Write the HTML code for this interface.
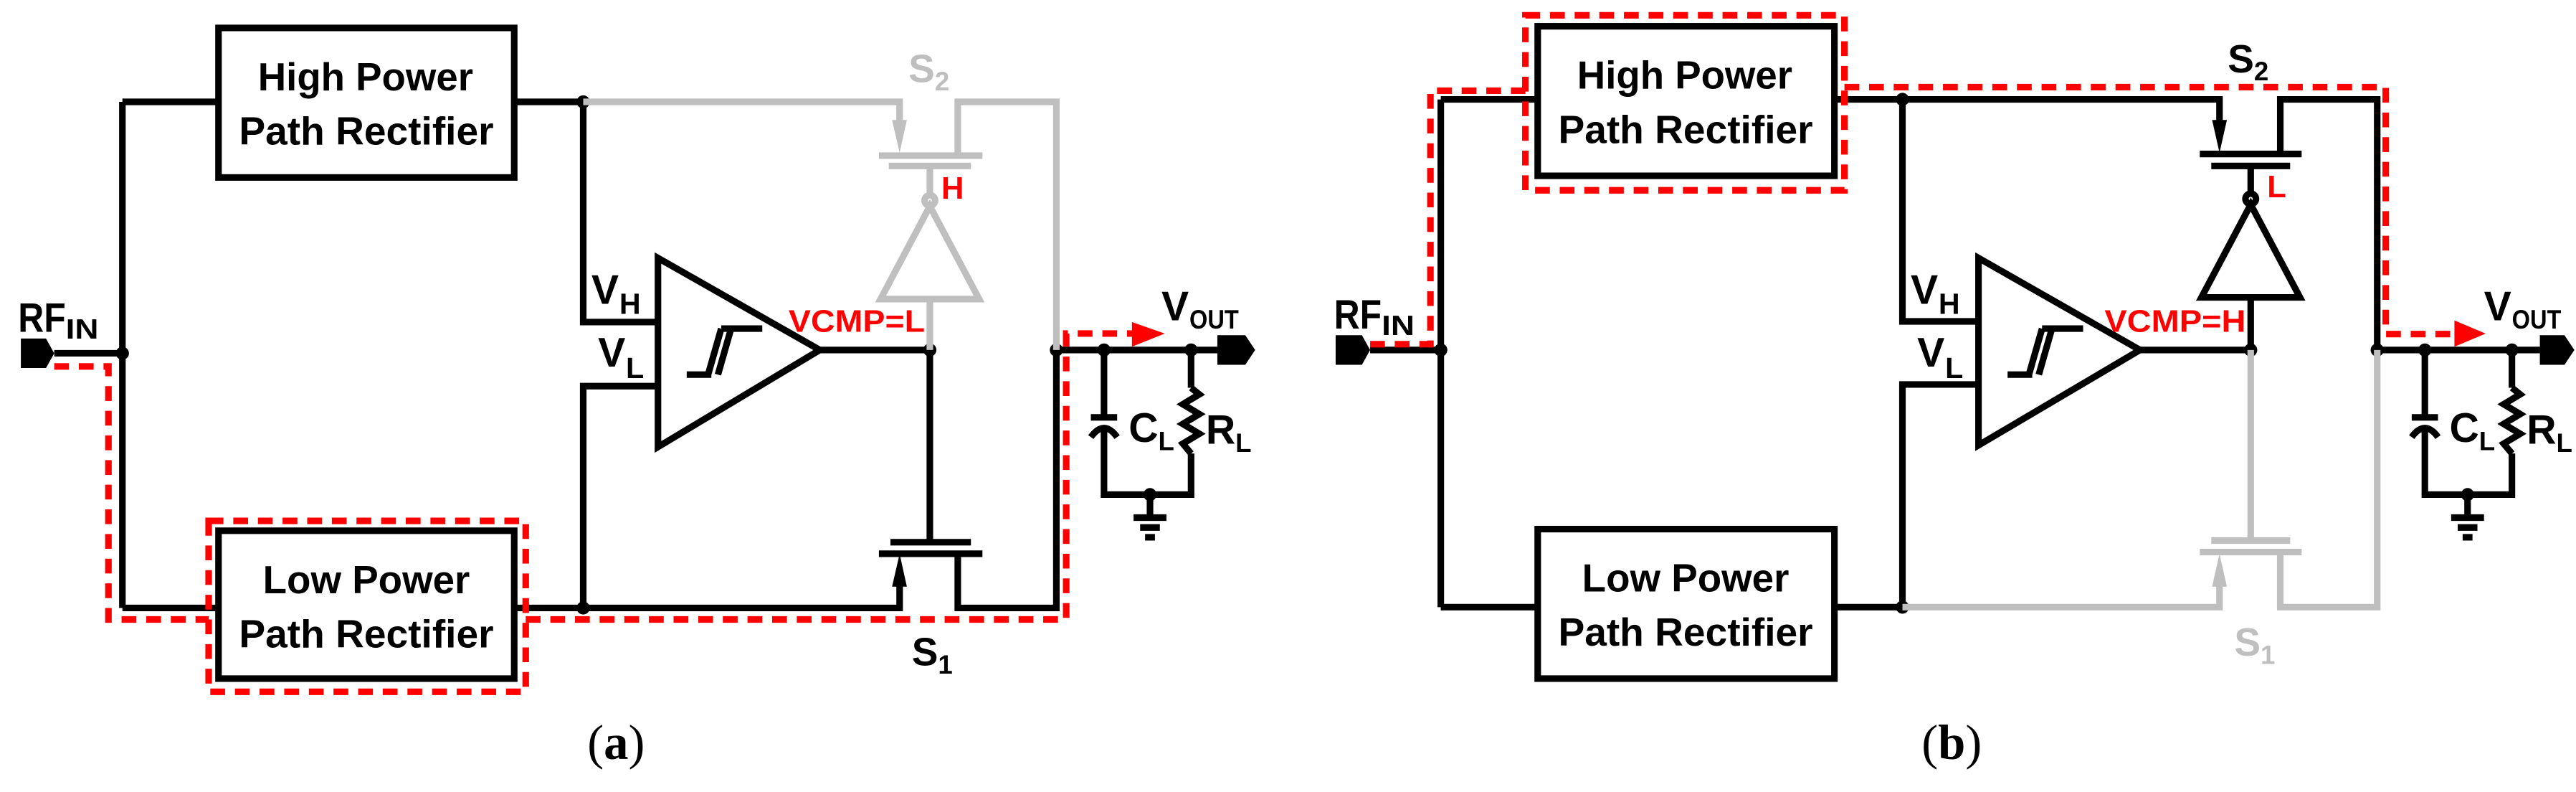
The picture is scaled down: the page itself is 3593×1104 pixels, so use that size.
<!DOCTYPE html>
<html><head><meta charset="utf-8"><style>
html,body{margin:0;padding:0;background:#fff;}
svg{display:block;}
text{font-family:"Liberation Sans",sans-serif;font-weight:bold;}
</style></head><body>
<svg width="3593" height="1104" viewBox="0 0 1568 482" preserveAspectRatio="none" xmlns="http://www.w3.org/2000/svg">
<!-- ================= PANEL A ================= -->
<g fill="none" stroke="#000" stroke-width="4" stroke-linejoin="miter">
 <path d="M33,215 H74.5 M74.5,62 V370 M74.5,62 H133 M74.5,370 H133"/>
 <rect x="133" y="17" width="180" height="91"/>
 <rect x="133" y="323" width="180" height="90"/>
 <path d="M313,62 H355 V196 H400.5"/>
 <path d="M400.5,235 H355 V370 M313,370 H547.6 V356"/>
 <path d="M542,330 H591 M535,337 H598 M583,337 V370 H643 V213"/>
 <path d="M566,213 V330 M499,213 H566"/>
 <polygon points="400.5,157 400.5,272 499,213"/>
 <path d="M418,228 H433 M431,228 L439,200 M437,228 L445,200 M439,200 H464"/>
 <path d="M643,213 H741 M672,213 V254 M664,254 H680 M672,261 V301 H725 V276 M725,213 V236"/>
 <path d="M664,266 Q672,255 680,266"/>
 <polyline points="725,236 730,240 720,246 730,252 720,258 730,264 720,270 725,276"/>
 <path d="M700,301 V315 M690,315 H710 M694,321 H706 M697,327 H703"/>
</g>
<g fill="#000">
 <polygon points="543,357 552,357 547.6,337"/>
 <polygon points="12.7,206 28,206 33,215 28,224 12.7,224"/>
 <polygon points="741,204 758,204 764,213 758,222 741,222"/>
 <circle cx="74.5" cy="215" r="4"/><circle cx="355" cy="62" r="4"/><circle cx="355" cy="370" r="4"/>
 <circle cx="566" cy="213" r="4"/><circle cx="643" cy="213" r="4"/><circle cx="672" cy="213" r="4"/>
 <circle cx="725" cy="213" r="4"/><circle cx="700" cy="301" r="4"/>
</g>
<g fill="none" stroke="#bfbfbf" stroke-width="4">
 <path d="M355,62 H547.6 V74 M535,94.7 H598 M541,101 H591 M583,94.7 V62 H643 V213"/>
 <path d="M566,101 V118.5"/><circle cx="566" cy="122" r="3.2"/>
 <polygon points="566,125.5 536,182 596,182"/>
 <path d="M566,182 V213"/>
</g>
<polygon points="543,73 552,73 547.6,93" fill="#bfbfbf"/>
<g fill="none" stroke="#f00" stroke-width="4" stroke-dasharray="9,6">
 <path d="M33,223 H66 V377 H127"/>
 <rect x="127" y="317" width="193" height="104"/>
 <path d="M320,377 H649 V203 H690"/>
</g>
<polygon points="689,196 709,203 689,211" fill="#f00"/>
<g font-size="24" fill="#000">
 <text x="157" y="55" textLength="131" lengthAdjust="spacingAndGlyphs">High Power</text>
 <text x="145.5" y="88" textLength="155" lengthAdjust="spacingAndGlyphs">Path Rectifier</text>
 <text x="160" y="361" textLength="126" lengthAdjust="spacingAndGlyphs">Low Power</text>
 <text x="145.5" y="394" textLength="155" lengthAdjust="spacingAndGlyphs">Path Rectifier</text>
</g>
<g fill="#000" font-size="25">
 <text x="11" y="202" textLength="29" lengthAdjust="spacingAndGlyphs">RF</text><text x="40" y="206" font-size="17" textLength="20" lengthAdjust="spacingAndGlyphs">IN</text>
 <text x="360" y="185">V</text><text x="377" y="191" font-size="18">H</text>
 <text x="364" y="223">V</text><text x="381" y="230" font-size="18">L</text>
 <text x="707" y="195">V</text><text x="724" y="200" font-size="16" textLength="30" lengthAdjust="spacingAndGlyphs">OUT</text>
 <text x="687" y="269">C</text><text x="705" y="274" font-size="16">L</text>
 <text x="734" y="270">R</text><text x="752" y="275" font-size="16">L</text>
 <text x="555" y="405" font-size="24">S</text><text x="571" y="410" font-size="16">1</text>
 <text x="553" y="50" font-size="24" fill="#bfbfbf">S</text><text x="569" y="55" font-size="16" fill="#bfbfbf">2</text>
 <text x="480" y="202" font-size="19" fill="#f00" textLength="83" lengthAdjust="spacingAndGlyphs">VCMP=L</text>
 <text x="573" y="121" font-size="19" fill="#f00">H</text>
</g>
<text x="375" y="462" font-size="30" text-anchor="middle" style="font-family:'Liberation Serif',serif;font-weight:normal">(<tspan font-weight="bold">a</tspan>)</text>

<!-- ================= PANEL B ================= -->
<g fill="none" stroke="#000" stroke-width="4">
 <path d="M834,213 H877 M877,60.5 V369.5 M877,60.5 H936 M877,369.5 H936"/>
 <rect x="936" y="16" width="180.6" height="91"/>
 <rect x="936" y="322" width="180.6" height="91"/>
 <path d="M1116.6,60.5 H1351 V74"/>
 <path d="M1339,93.7 H1401 M1346,101 H1394 M1388,93.7 V60.5 H1447 V213"/>
 <path d="M1370,101 V117.5"/><circle cx="1370" cy="121" r="3.2"/>
 <polygon points="1370,124.5 1340,181 1400,181"/>
 <path d="M1370,181 V213"/>
 <path d="M1158,60.5 V195.6 H1204.3 M1204.3,234 H1158 V369.5 M1116.6,369.5 H1158"/>
 <polygon points="1204.3,157 1204.3,271 1302.6,213"/>
 <path d="M1302.6,213 H1370"/>
 <path d="M1222,228 H1237 M1235,228 L1243,200 M1241,228 L1249,200 M1243,200 H1268"/>
 <path d="M1447,213 H1546 M1476,213 V254 M1468,254 H1484 M1476,261 V301 H1529 V276 M1529,213 V236"/>
 <path d="M1468,266 Q1476,255 1484,266"/>
 <polyline points="1529,236 1534,240 1524,246 1534,252 1524,258 1534,264 1524,270 1529,276"/>
 <path d="M1502,301 V315 M1492,315 H1512 M1496,321 H1508 M1499,327 H1505"/>
</g>
<g fill="#000">
 <polygon points="1346.5,73 1355.5,73 1351,93"/>
 <polygon points="813,204 829,204 834,213 829,222 813,222"/>
 <polygon points="1546,204 1561,204 1567,213 1561,222 1546,222"/>
 <circle cx="877" cy="213" r="4"/><circle cx="1158" cy="60.5" r="4"/><circle cx="1158" cy="369.5" r="4"/>
 <circle cx="1370" cy="213" r="4"/><circle cx="1447" cy="213" r="4"/><circle cx="1476" cy="213" r="4"/>
 <circle cx="1529" cy="213" r="4"/><circle cx="1502" cy="301" r="4"/>
</g>
<g fill="none" stroke="#bfbfbf" stroke-width="4">
 <path d="M1158,369.5 H1351 V356 M1346,329 H1394 M1339,336 H1401 M1388,336 V369.5 H1447 V213 M1370,213 V329"/>
</g>
<polygon points="1346.5,357 1355.5,357 1351,337" fill="#bfbfbf"/>
<g fill="none" stroke="#f00" stroke-width="4" stroke-dasharray="9,6">
 <path d="M834,209.5 H870.7 V55.2 H928.5"/>
 <rect x="928.5" y="9.3" width="194.2" height="106.5"/>
 <path d="M1122.7,53 H1452.2 V203.3 H1495"/>
</g>
<polygon points="1494,195 1513,203 1494,211" fill="#f00"/>
<g font-size="24" fill="#000">
 <text x="960" y="54" textLength="131" lengthAdjust="spacingAndGlyphs">High Power</text>
 <text x="948.5" y="87" textLength="155" lengthAdjust="spacingAndGlyphs">Path Rectifier</text>
 <text x="963" y="360" textLength="126" lengthAdjust="spacingAndGlyphs">Low Power</text>
 <text x="948.5" y="393" textLength="155" lengthAdjust="spacingAndGlyphs">Path Rectifier</text>
</g>
<g fill="#000" font-size="25">
 <text x="812" y="200" textLength="29" lengthAdjust="spacingAndGlyphs">RF</text><text x="841" y="204" font-size="17" textLength="20" lengthAdjust="spacingAndGlyphs">IN</text>
 <text x="1163" y="185">V</text><text x="1180" y="191" font-size="18">H</text>
 <text x="1167" y="223">V</text><text x="1184" y="230" font-size="18">L</text>
 <text x="1512" y="195">V</text><text x="1529" y="200" font-size="16" textLength="30" lengthAdjust="spacingAndGlyphs">OUT</text>
 <text x="1491" y="269">C</text><text x="1509" y="274" font-size="16">L</text>
 <text x="1538" y="270">R</text><text x="1556" y="275" font-size="16">L</text>
 <text x="1356" y="44" font-size="24">S</text><text x="1372" y="49" font-size="16">2</text>
 <text x="1360" y="399" font-size="24" fill="#bfbfbf">S</text><text x="1376" y="404" font-size="16" fill="#bfbfbf">1</text>
 <text x="1281" y="202" font-size="19" fill="#f00" textLength="86" lengthAdjust="spacingAndGlyphs">VCMP=H</text>
 <text x="1380" y="120" font-size="19" fill="#f00">L</text>
</g>
<text x="1188" y="462" font-size="30" text-anchor="middle" style="font-family:'Liberation Serif',serif;font-weight:normal">(<tspan font-weight="bold">b</tspan>)</text>
</svg>
</body></html>
